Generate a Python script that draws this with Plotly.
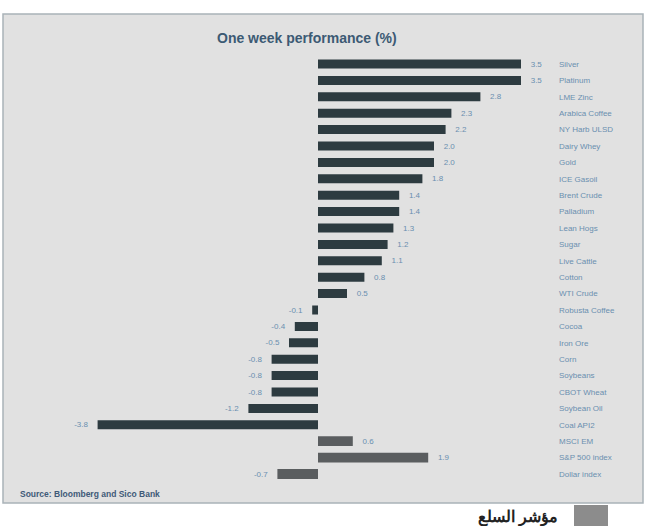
import plotly.graph_objects as go

categories = [
    "Silver", "Platinum", "LME Zinc", "Arabica Coffee", "NY Harb ULSD",
    "Dairy Whey", "Gold", "ICE Gasoil", "Brent Crude", "Palladium",
    "Lean Hogs", "Sugar", "Live Cattle", "Cotton", "WTI Crude",
    "Robusta Coffee", "Cocoa", "Iron Ore", "Corn", "Soybeans",
    "CBOT Wheat", "Soybean Oil", "Coal API2", "MSCI EM", "S&P 500 index",
    "Dollar index",
]
values = [
    3.5, 3.5, 2.8, 2.3, 2.2,
    2.0, 2.0, 1.8, 1.4, 1.4,
    1.3, 1.2, 1.1, 0.8, 0.5,
    -0.1, -0.4, -0.5, -0.8, -0.8,
    -0.8, -1.2, -3.8, 0.6, 1.9,
    -0.7,
]
is_index = [False] * 23 + [True] * 3

title_text = "One week performance (%)"
source_text = "Source: Bloomberg and Sico Bank"
legend_text = "مؤشر السلع"

W, H = 652, 526

def px_x(p):
    return p / W

def px_y(p):
    return 1 - p / H

bar_colors = ["#5a5d5f" if f else "#2d3b40" for f in is_index]
bar_widths = [0.6 if f else 0.55 for f in is_index]
pad = "\u00a0\u00a0\u00a0"
labels = [(pad + f"{v:.1f}") if v >= 0 else (f"{v:.1f}" + pad) for v in values]

fig = go.Figure()
fig.add_trace(go.Bar(
    x=values, y=categories, orientation="h",
    marker=dict(color=bar_colors, line=dict(width=0)),
    width=bar_widths,
    text=labels, textposition="outside",
    textfont=dict(family="Liberation Sans", size=8, color="#6a8fb0"),
    cliponaxis=False,
    hoverinfo="skip",
))

# panel
fig.add_shape(type="rect", xref="paper", yref="paper",
              x0=px_x(3), x1=px_x(643), y0=px_y(503), y1=px_y(14),
              fillcolor="#e1e1e1", line=dict(color="#a9b2b8", width=1.5),
              layer="below")
# legend square
fig.add_shape(type="rect", xref="paper", yref="paper",
              x0=px_x(574), x1=px_x(608), y0=px_y(526), y1=px_y(505),
              fillcolor="#8c8c8c", line=dict(width=0))

fig.add_annotation(text="<b>" + title_text + "</b>", xref="paper", yref="paper",
                   x=px_x(307), y=px_y(38), showarrow=False,
                   xanchor="center", yanchor="middle",
                   font=dict(family="Liberation Sans", size=14, color="#3c5a74"))
fig.add_annotation(text="<b>" + source_text + "</b>", xref="paper", yref="paper",
                   x=px_x(18), y=px_y(494), showarrow=False,
                   xanchor="left", yanchor="middle",
                   font=dict(family="Liberation Sans", size=8.5, color="#3f5a78"))
fig.add_annotation(text="<b>" + legend_text + "</b>", xref="paper", yref="paper",
                   x=px_x(560), y=px_y(516), showarrow=False,
                   xanchor="right", yanchor="middle",
                   font=dict(family="Noto Sans", size=16, color="#222222"))

x0, x1 = -4.5, 4.0
zero_px, unit_px = 318, 58
dom_l = (zero_px + unit_px * x0) / W
dom_r = (zero_px + unit_px * x1) / W
top_px = 64 - 8.2
bot_px = 474 + 8.2

fig.update_layout(
    width=W, height=H,
    margin=dict(l=0, r=0, t=0, b=0),
    paper_bgcolor="white", plot_bgcolor="rgba(0,0,0,0)",
    showlegend=False,
    xaxis=dict(range=[x0, x1], domain=[dom_l, dom_r], showgrid=False,
               zeroline=False, showticklabels=False, ticks=""),
    yaxis=dict(type="category", range=[len(categories) - 0.5, -0.5],
               domain=[1 - bot_px / H, 1 - top_px / H],
               side="right", showgrid=False, zeroline=False, ticks="",
               ticklabelstandoff=8,
               tickfont=dict(family="Liberation Sans", size=8, color="#6a8fb0")),
)

fig.write_html("out.html")
